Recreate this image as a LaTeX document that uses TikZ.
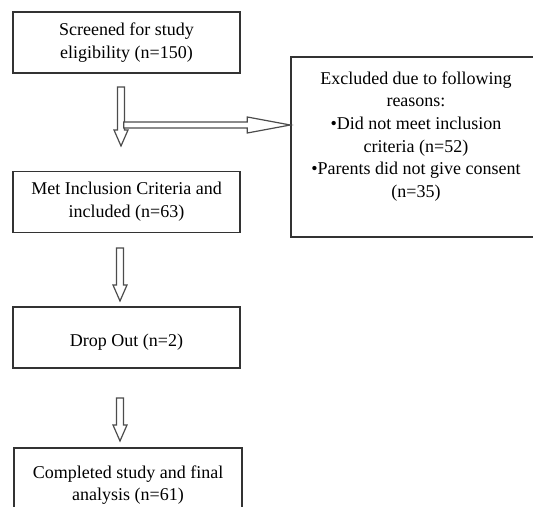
\documentclass[tikz,border=0pt]{standalone}
\usepackage{fontspec}
\setmainfont{Liberation Serif}
\usetikzlibrary{positioning}

\tikzset{
    box/.style = {draw=black!80, line width=1pt, minimum width=170.25pt, minimum height=45.75pt,
                  align=center, inner sep=2pt, font=\fontsize{13.5}{17}\selectfont},
    note/.style = {align=center, inner sep=0pt, font=\fontsize{13.5}{17}\selectfont},
    hollow/.style = {draw=black!70, line width=0.9pt, fill=white, line join=miter}
}

% hollow block arrow pointing down: #1 = top of shaft, #2 = shaft length
\newcommand\hollowdown[2]{%
    \draw[hollow] (#1) ++(-3.5,0) -- ++(7,0) -- ++(0,#2) -- ++(3.5,0) -- ++(-7,16)
        -- ++(-7,-16) -- ++(3.5,0) -- cycle;}

\begin{document}
\begin{tikzpicture}[x=0.75pt, y=-0.75pt]
\useasboundingbox (0,0) rectangle (533,507);
\clip (0,0) rectangle (533,507);

% boxes
\node[box] (screen) at (126.5,42.5) {Screened for study\\eligibility (n=150)};
\node[box] (met) at (126.5,202) {Met Inclusion Criteria and\\included (n=63)};
\node[box] (drop) at (126.5,337.5) {~\\Drop Out (n=2)};
\node[box, minimum width=171pt, minimum height=55.5pt] (final) at (128,485) {Completed study and final\\analysis (n=61)};

\node[box, minimum width=195pt, minimum height=135pt] (exclbox) at (421,147) {};
\node[note] (excl) at (416,136.5) {Excluded due to following\\reasons:\\
    •Did not meet inclusion\\criteria (n=52)\\
    •Parents did not give consent\\(n=35)};

% arrows
\coordinate (a1) at (121,87);
\coordinate (a2) at (120,248);
\coordinate (a3) at (120,398);
\coordinate (tip) at (exclbox.west |- 0,125);

\hollowdown{a1}{43}
\draw[hollow] (tip) -- ++(-43,-8) -- ++(0,5) -- ++(-123.5,0) -- ++(0,6) -- ++(123.5,0)
    -- ++(0,5) -- cycle;
\hollowdown{a2}{37}
\hollowdown{a3}{27}

\end{tikzpicture}
\end{document}
